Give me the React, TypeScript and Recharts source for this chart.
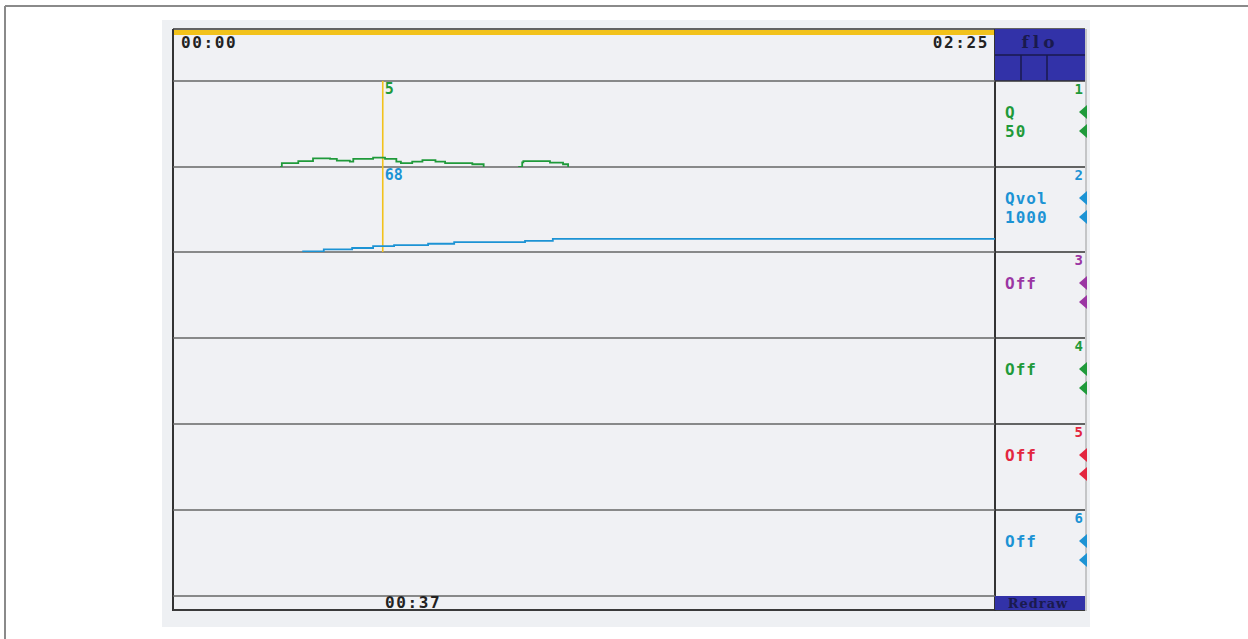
import React from "react";
import { LineChart, Line, XAxis, YAxis, ReferenceLine } from "recharts";

// recording: 0..145 s, cursor at 37 s
const TIME_END = 145;
const CURSOR_T = 37;

// channel 1 - flow Q (ml/s), stepped trace, null = no signal
const FLOW_T = [18.9, 19.2, 22.1, 24.7, 27.7, 28.9, 31.2, 31.8, 35.3, 37.4, 39.4, 40.2, 42.2, 44.0, 46.3, 48.0, 52.8, 54.8, 57, 60.9, 61.6, 61.8, 66.5, 68.8, 69.7];
const FLOW_V = [0, 2.2, 3.4, 5.0, 4.7, 3.7, 3.1, 4.7, 5.4, 4.7, 3.1, 2.2, 3.1, 4.0, 3.1, 2.2, 1.6, 0, null, 0, 2.7, 3.4, 2.5, 1.6, 0];

// channel 2 - voided volume Qvol (ml)
const VOL_T = [22.8, 26.6, 31.6, 35.3, 39.0, 45.0, 49.6, 62.1, 67.0, 145];
const VOL_V = [8, 31, 47, 68, 82, 97, 117, 132, 155, 155];

const CHANNELS = ["Q", "Qvol", "Off", "Off", "Off", "Off"];
const CHANNEL_RANGES = ["50", "1000", "", "", "", ""];
const CHANNEL_MAX = [50, 1000, 1, 1, 1, 1];
const CHANNEL_COLORS = ["#1f9a3a", "#1c93d4", "#9b36a3", "#1f9a3a", "#e3263f", "#1c93d4"];
const CURSOR_LABELS = ["5", "68", "", "", "", ""];

const PLOT_L = 173;
const PLOT_R = 995;
const PANEL_R = 1085;
const ROW_Y = [81, 167, 252, 338, 424, 510, 596];

const MONO = "'DejaVu Sans Mono', monospace";
const SERIF = "'DejaVu Serif', serif";
const NAVY = "#1a1a4e";
const SCREEN_BLUE = "#3232a8";
const GRID = "#666";
const CURSOR = "#f2c21b";

function fmt(sec: number) {
  const m = Math.floor(sec / 60);
  const s = Math.round(sec % 60);
  return `${String(m).padStart(2, "0")}:${String(s).padStart(2, "0")}`;
}

function stripData(i: number) {
  if (i === 0) return FLOW_T.map((t, k) => ({ t, v: FLOW_V[k] }));
  if (i === 1) return VOL_T.map((t, k) => ({ t, v: VOL_V[k] }));
  return [
    { t: 0, v: null },
    { t: TIME_END, v: null },
  ];
}

function Strip({ i }: { i: number }) {
  const h = ROW_Y[i + 1] - ROW_Y[i];
  const color = CHANNEL_COLORS[i];
  return (
    <div style={{ position: "absolute", left: PLOT_L, top: ROW_Y[i], width: PLOT_R - PLOT_L, height: h }}>
      <LineChart
        width={PLOT_R - PLOT_L}
        height={h}
        data={stripData(i)}
        margin={{ top: 0, right: 0, bottom: 0, left: 0 }}
      >
        <XAxis dataKey="t" type="number" domain={[0, TIME_END]} hide />
        <YAxis type="number" domain={[0, CHANNEL_MAX[i]]} hide />
        <ReferenceLine
          x={CURSOR_T}
          stroke={CURSOR}
          strokeWidth={1.6}
          label={
            CURSOR_LABELS[i]
              ? {
                  value: CURSOR_LABELS[i],
                  position: "insideTopLeft",
                  offset: 2,
                  fill: color,
                  fontSize: 15,
                  fontWeight: 700,
                  fontFamily: MONO,
                }
              : undefined
          }
        />
        {i < 2 && (
          <Line
            dataKey="v"
            type="stepAfter"
            stroke={color}
            strokeWidth={1.8}
            dot={false}
            connectNulls={false}
            isAnimationActive={false}
          />
        )}
      </LineChart>
    </div>
  );
}

function Frame() {
  return (
    <svg width={1248} height={639} style={{ position: "absolute", left: 0, top: 0 }}>
      {/* figure border */}
      <line x1={5} y1={6} x2={1248} y2={6} stroke="#8a8a8a" strokeWidth={2} />
      <line x1={5} y1={6} x2={5} y2={639} stroke="#8a8a8a" strokeWidth={2} />
      {/* scanned screen */}
      <rect x={162} y={20} width={928} height={607} fill="#eef0f3" />
      <rect x={PLOT_L} y={29} width={PANEL_R - PLOT_L} height={582} fill="#f0f1f4" />
      <rect x={PLOT_L + 1} y={30} width={PLOT_R - PLOT_L - 1} height={5} fill={CURSOR} />
      <line x1={PLOT_L} y1={29} x2={PANEL_R} y2={29} stroke="#333" strokeWidth={1.5} />
      <line x1={PLOT_L} y1={29} x2={PLOT_L} y2={611} stroke="#333" strokeWidth={2} />
      <line x1={PLOT_L} y1={610} x2={PANEL_R} y2={610} stroke="#3a3a3a" strokeWidth={2} />
      <line x1={PLOT_R} y1={29} x2={PLOT_R} y2={611} stroke="#333" strokeWidth={2} />
      <line x1={PANEL_R + 1} y1={29} x2={PANEL_R + 1} y2={611} stroke="#9a9a9a" strokeWidth={1} />
      {ROW_Y.map((y) => (
        <line key={y} x1={PLOT_L} y1={y} x2={PLOT_R} y2={y} stroke={GRID} strokeWidth={1.6} />
      ))}
      {/* time readouts */}
      <text x={181} y={48} fontFamily={MONO} fontWeight={700} fontSize={16} letterSpacing={1.6} fill="#222">
        {fmt(0)}
      </text>
      <text x={989} y={48} textAnchor="end" fontFamily={MONO} fontWeight={700} fontSize={16} letterSpacing={1.6} fill="#222">
        {fmt(TIME_END)}
      </text>
      <text x={385} y={608} fontFamily={MONO} fontWeight={700} fontSize={16} letterSpacing={1.6} fill="#222">
        {fmt(CURSOR_T)}
      </text>
      {/* side panel header */}
      <rect x={PLOT_R} y={29} width={PANEL_R - PLOT_R} height={52} fill={SCREEN_BLUE} />
      <line x1={PLOT_R} y1={55} x2={PANEL_R} y2={55} stroke={NAVY} strokeWidth={1.5} />
      <line x1={1021} y1={55} x2={1021} y2={81} stroke={NAVY} strokeWidth={1.5} />
      <line x1={1047} y1={55} x2={1047} y2={81} stroke={NAVY} strokeWidth={1.5} />
      <text x={1040} y={48} textAnchor="middle" fontFamily={SERIF} fontWeight={700} fontSize={17} letterSpacing={4} fill={NAVY}>
        flo
      </text>
      {/* channel cells */}
      {CHANNELS.map((name, i) => {
        const top = ROW_Y[i];
        const c = CHANNEL_COLORS[i];
        return (
          <g key={i}>
            <line x1={PLOT_R} y1={top} x2={PANEL_R} y2={top} stroke="#333" strokeWidth={1.6} />
            <text x={1083} y={top + 13} textAnchor="end" fontFamily={MONO} fontWeight={700} fontSize={14} fill={c}>
              {i + 1}
            </text>
            <text x={1005} y={top + 37} fontFamily={MONO} fontWeight={700} fontSize={16} letterSpacing={1} fill={c}>
              {name}
            </text>
            {CHANNEL_RANGES[i] && (
              <text x={1005} y={top + 56} fontFamily={MONO} fontWeight={700} fontSize={16} letterSpacing={1} fill={c}>
                {CHANNEL_RANGES[i]}
              </text>
            )}
            <polygon points={`1079,${top + 31} 1087,${top + 24} 1087,${top + 38}`} fill={c} />
            <polygon points={`1079,${top + 50} 1087,${top + 43} 1087,${top + 57}`} fill={c} />
          </g>
        );
      })}
      {/* redraw button */}
      <rect x={PLOT_R} y={596} width={PANEL_R - PLOT_R} height={14} fill={SCREEN_BLUE} />
      <text x={1038} y={607.5} textAnchor="middle" fontFamily={SERIF} fontWeight={700} fontSize={13} letterSpacing={1} fill={NAVY}>
        Redraw
      </text>
    </svg>
  );
}

export default function App() {
  return (
    <div
      style={{
        position: "absolute",
        left: 0,
        top: 0,
        width: 1248,
        height: 639,
        background: "#fff",
        overflow: "hidden",
      }}
    >
      <Frame />
      {CHANNELS.map((_, i) => (
        <Strip key={i} i={i} />
      ))}
    </div>
  );
}
